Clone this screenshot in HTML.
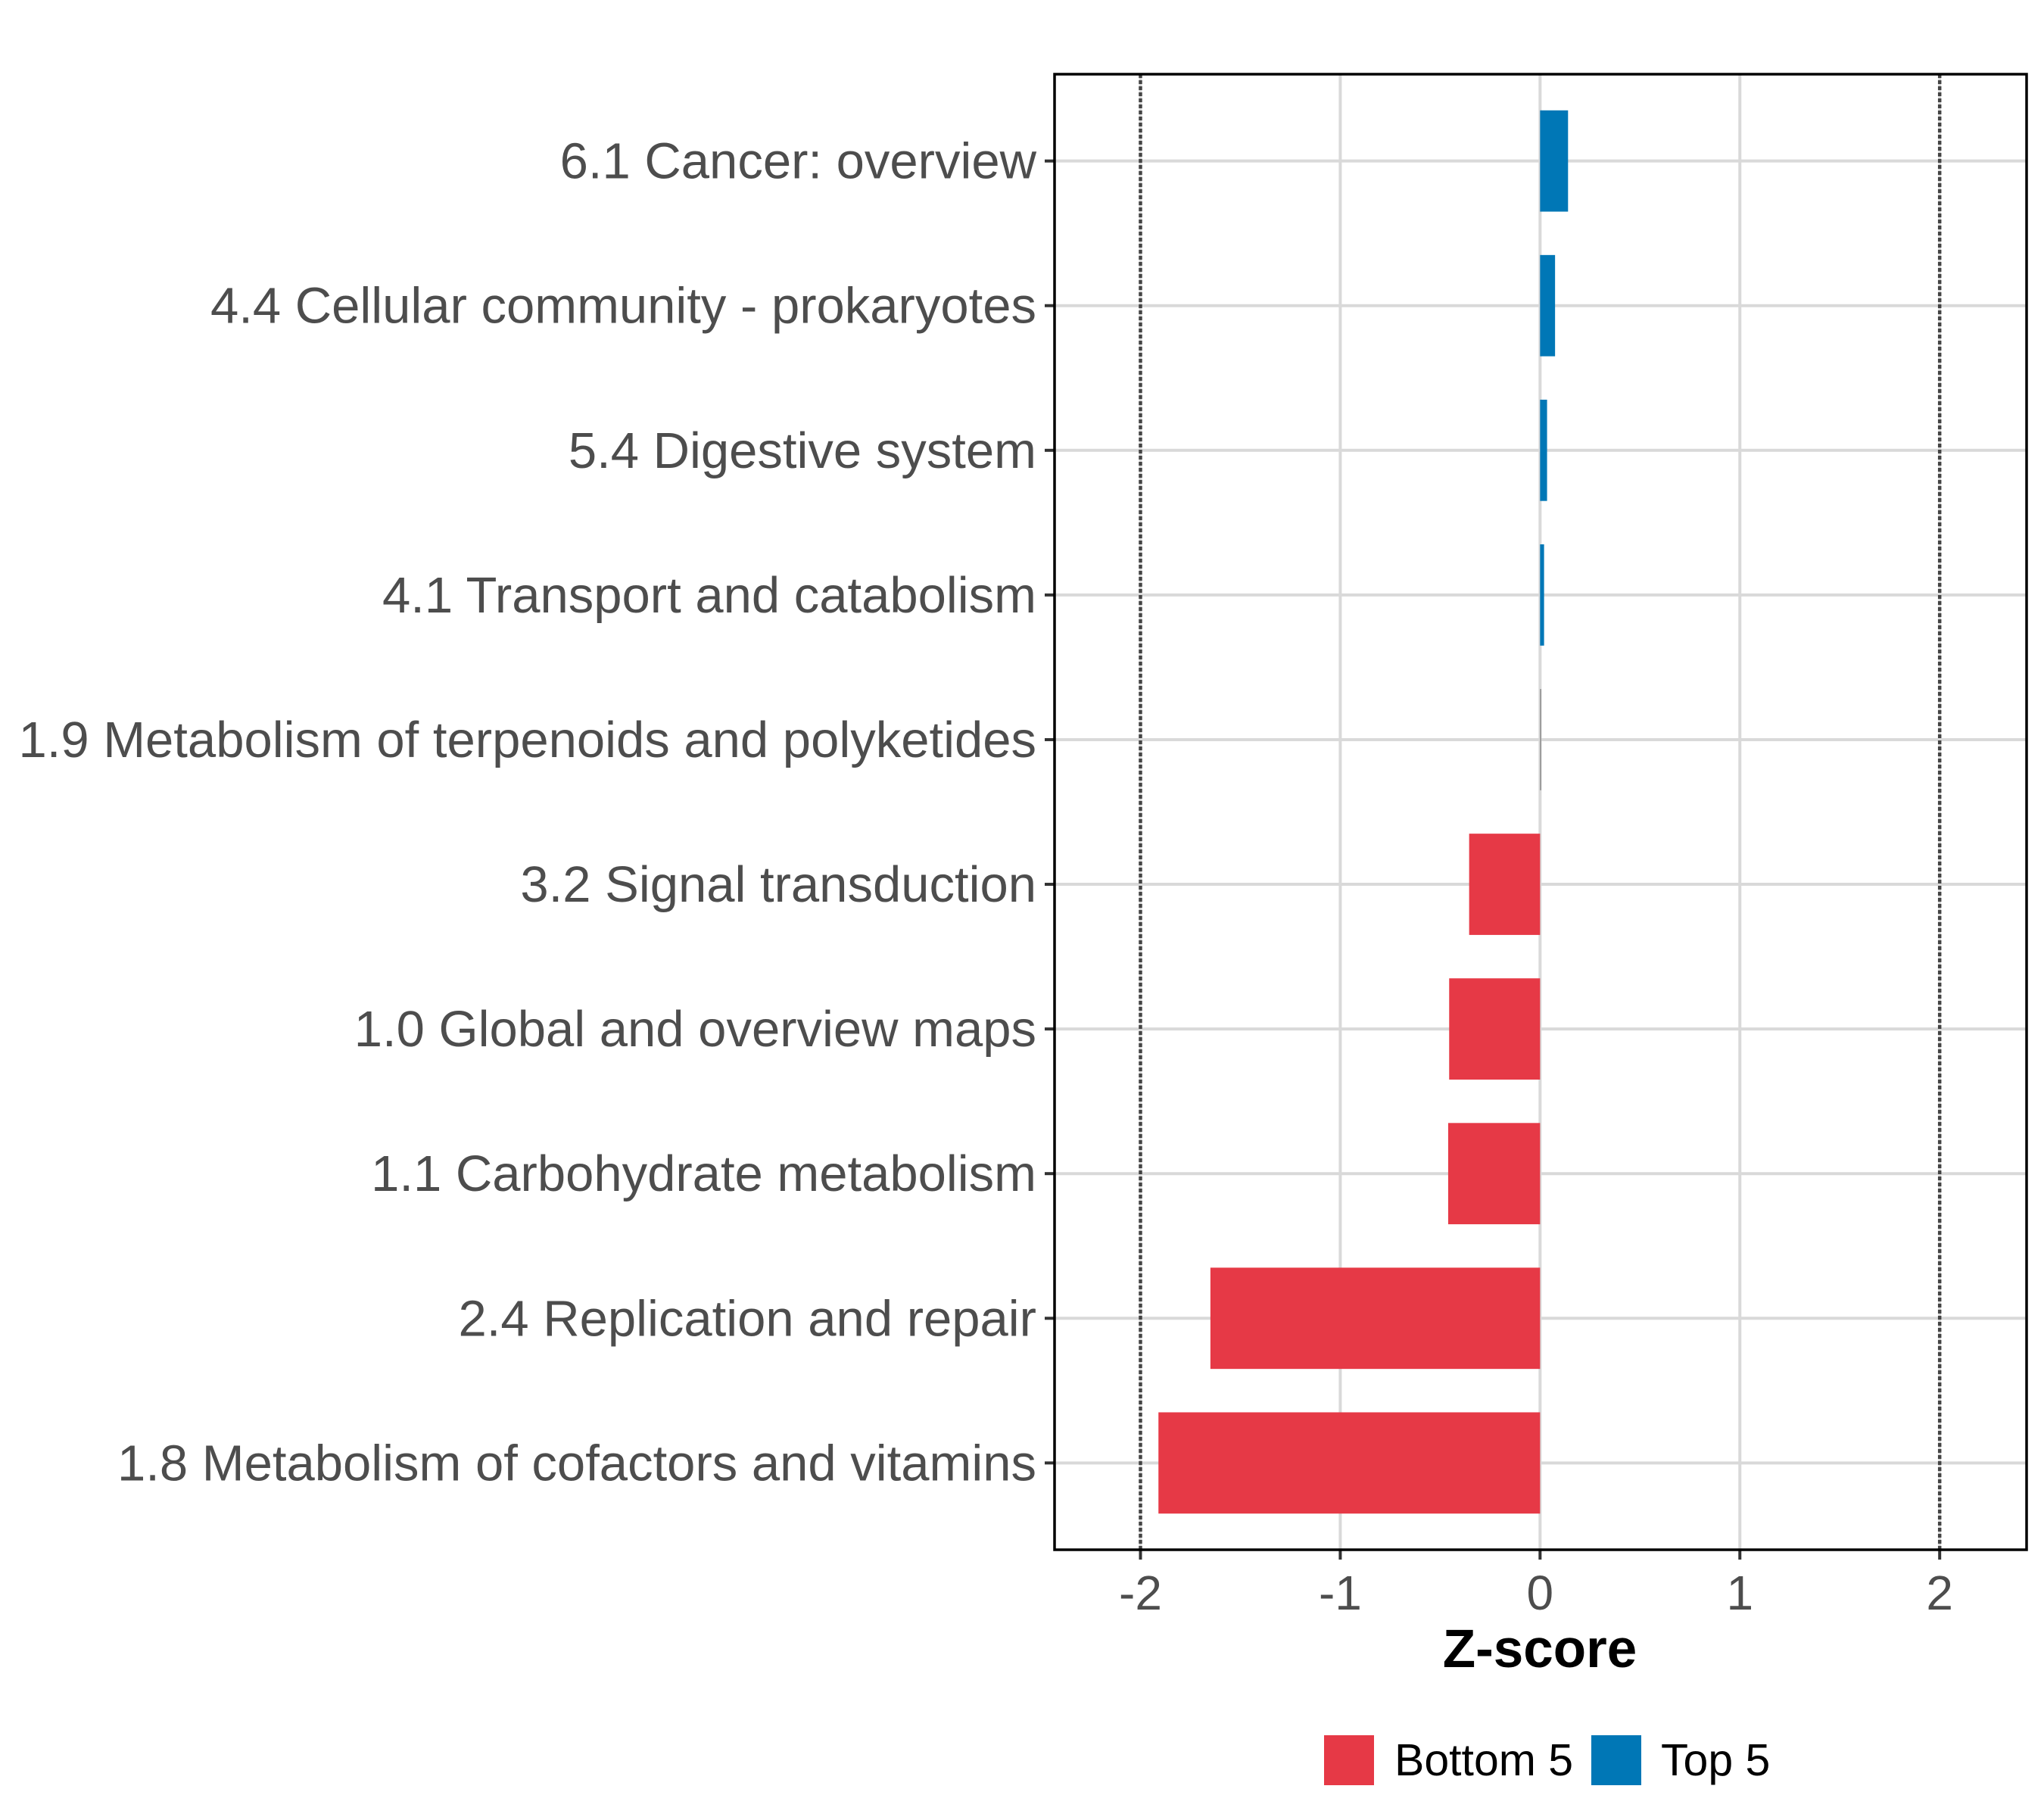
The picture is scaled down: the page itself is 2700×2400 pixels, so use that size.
<!DOCTYPE html>
<html><head><meta charset="utf-8"><style>html,body{margin:0;padding:0;background:#fff}svg{display:block}</style></head>
<body>
<svg id="chart" width="2700" height="2400" viewBox="0 0 2700 2400" xmlns="http://www.w3.org/2000/svg" font-family="'Liberation Sans', sans-serif">
<rect x="0" y="0" width="2700" height="2400" fill="#fff"/>
<g id="grid"></g>
<g id="bars"></g>
<g id="axes"></g>
<rect x="1393" y="98" width="1284" height="1949" fill="none" stroke="#000" stroke-width="3.5"/>
<text x="2034" y="2202" text-anchor="middle" font-size="71" font-weight="bold" fill="#000">Z-score</text>
<g>
<rect x="1749" y="2292" width="66" height="66" fill="#E63946"/>
<text x="1842" y="2345" font-size="59" fill="#000">Bottom 5</text>
<rect x="2102" y="2292" width="66" height="66" fill="#0077B6"/>
<text x="2194" y="2345" font-size="59" fill="#000">Top 5</text>
</g>
</svg>
<script>
const categories = ["1.8 Metabolism of cofactors and vitamins","2.4 Replication and repair","1.1 Carbohydrate metabolism","1.0 Global and overview maps","3.2 Signal transduction","1.9 Metabolism of terpenoids and polyketides","4.1 Transport and catabolism","5.4 Digestive system","4.4 Cellular community - prokaryotes","6.1 Cancer: overview"];
const values = [-1.91,-1.65,-0.46,-0.455,-0.355,0.003,0.02,0.035,0.075,0.14];
const groups = ["Bottom 5","Bottom 5","Bottom 5","Bottom 5","Bottom 5","Top 5","Top 5","Top 5","Top 5","Top 5"];
const xTicks = [-2,-1,0,1,2];
const xTickLabels = ["-2","-1","0","1","2"];
const thresholds = [-2,2];

const NS="http://www.w3.org/2000/svg";
const L=1393,R=2677,T=98,B=2047;
const xMin=-2.43,xMax=2.435;
function xs(v){return L+(v-xMin)/(xMax-xMin)*(R-L);}
const n=categories.length;
const band=(B-T)/(n-1+1.2);
function ys(i){return B-(0.6+i)*band;}
function mk(tag,attrs,parent){const e=document.createElementNS(NS,tag);for(const k in attrs)e.setAttribute(k,attrs[k]);parent.appendChild(e);return e;}
const grid=document.getElementById('grid'),bars=document.getElementById('bars'),axes=document.getElementById('axes');
xTicks.forEach((t,i)=>{
  const g=mk('line',{x1:xs(t),x2:xs(t),y1:T,y2:B,stroke:'#d9d9d9','stroke-width':4},grid);
  
  
  const tk=mk('line',{x1:xs(t),x2:xs(t),y1:B,y2:B+13,stroke:'#333','stroke-width':4},axes);
  
  
  const lb=mk('text',{x:xs(t),y:2126,'text-anchor':'middle','font-size':64,fill:'#4d4d4d'},axes);
  lb.textContent=xTickLabels[i];
  
  
});
categories.forEach((c,i)=>{
  const g=mk('line',{x1:L,x2:R,y1:ys(i),y2:ys(i),stroke:'#d9d9d9','stroke-width':4},grid);
  
  
  const tk=mk('line',{x1:L-13,x2:L,y1:ys(i),y2:ys(i),stroke:'#333','stroke-width':4},axes);
  
  
  const lb=mk('text',{x:L-24,y:ys(i)+23,'text-anchor':'end','font-size':67,fill:'#4d4d4d'},axes);
  lb.textContent=c;
  
  
});
thresholds.forEach(t=>{
  const d=mk('line',{x1:xs(t),x2:xs(t),y1:T,y2:B,stroke:'#444','stroke-width':4.5,'stroke-dasharray':'5 3'},grid);
  
  
});
const bh=band*0.7;
values.forEach((v,i)=>{
  const x0=xs(Math.min(0,v)),x1=xs(Math.max(0,v));
  const col=Math.abs(v)<0.01?'#888':(groups[i]==="Top 5"?'#0077B6':'#E63946');
  const r=mk('rect',{x:x0,y:ys(i)-bh/2,width:Math.max(1.5,x1-x0),height:bh,fill:col},bars);
  
  
});
</script>
</body></html>
